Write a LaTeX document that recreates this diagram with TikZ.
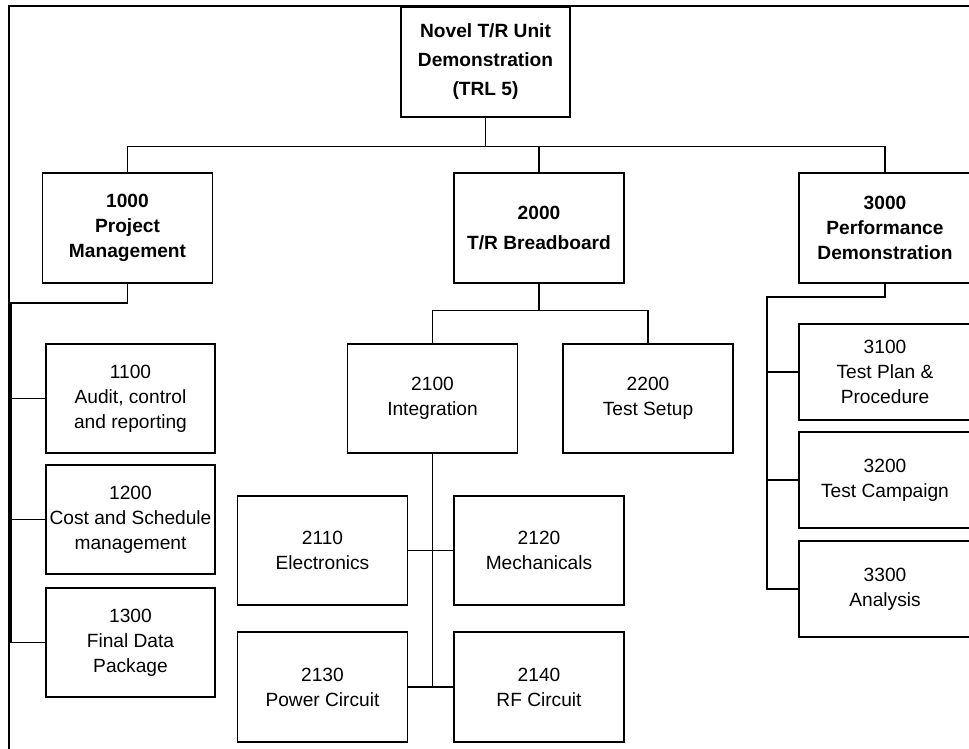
\documentclass[tikz,border=0pt]{standalone}
\usepackage{fontspec}
\setmainfont{Liberation Sans}

\tikzset{
  wbs/.style = {draw, line width=0.8pt, minimum width=3.4cm, minimum height=2.2cm,
                align=center, inner sep=0pt, font=\fontsize{10.9}{14.2}\selectfont},
  wbshead/.style = {wbs, font=\fontsize{10.9}{14.2}\selectfont\bfseries},
  wbslow/.style = {wbs, minimum width=3.44cm, minimum height=1.92cm},
  link/.style = {line width=0.8pt}
}

\begin{document}
\begin{tikzpicture}[x=0.02cm, y=-0.02cm]
\useasboundingbox (0,0) rectangle (969,748);
\clip (0,0) rectangle (969,748);

\coordinate (fb) at (9,760);
\coordinate (fc) at (9,6);
\coordinate (fr) at (990,6);
\draw[link] (fb) -- (fc) -- (fr);

\node[wbshead, minimum width=3.38cm, font=\fontsize{10.9}{16.5}\selectfont\bfseries] (top) at (485.5,62) {Novel T/R Unit\\Demonstration\\(TRL 5)};

\node[wbshead] (pm) at (127.5,228) {1000\\Project\\Management};
\node[wbshead, font=\fontsize{10.9}{17}\selectfont\bfseries] (bb) at (539,228) {2000\\T/R Breadboard};
\node[wbshead, minimum width=3.44cm] (pd) at (885,228) {3000\\Performance\\Demonstration};

\node[wbs, minimum width=3.38cm, minimum height=2.18cm] (acr) at (130.5,398.5) {1100\\Audit, control\\and reporting};
\node[wbs, minimum width=3.38cm, minimum height=2.18cm] (csm) at (130.5,519.5) {1200\\Cost and Schedule\\management};
\node[wbs, minimum width=3.38cm, minimum height=2.18cm] (fdp) at (130.5,642.5) {1300\\Final Data\\Package};

\node[wbs, minimum height=2.18cm] (int) at (432.5,398.5) {2100\\Integration};
\node[wbs, minimum height=2.18cm] (tsu) at (648,398.5) {2200\\Test Setup};

\node[wbs, minimum height=2.18cm] (ele) at (322.5,550.5) {2110\\Electronics};
\node[wbs, minimum height=2.18cm] (mec) at (539,550.5) {2120\\Mechanicals};
\node[wbs] (pwc) at (322.5,687) {2130\\Power Circuit};
\node[wbs] (rfc) at (539,687) {2140\\RF Circuit};

\node[wbslow] (tpp) at (885,372) {3100\\Test Plan \&\\Procedure};
\node[wbslow] (tca) at (885,480) {3200\\Test Campaign};
\node[wbslow] (ana) at (885,589) {3300\\Analysis};

% top level
\draw[link] (top.south) -- ++(0,29) coordinate (bus);
\draw[link] (pm.north) |- (bus) -| (pd.north);
\draw[link] (bb.north) -- (bb.north |- bus);

% 1000 branch
\coordinate (pmspine) at (11,303);
\draw[link] (pm.south) |- (pmspine) |- (fdp.west);
\draw[link] (pmspine |- acr.west) -- (acr.west);
\draw[link] (pmspine |- csm.west) -- (csm.west);

% 2000 branch
\draw[link] (bb.south) -- ++(0,27) coordinate (bbbus);
\draw[link] (int.north) |- (bbbus) -| (tsu.north);
\draw[link] (int.south) -- (int.south |- pwc.east);
\draw[link] (ele.east) -- (mec.west);
\draw[link] (pwc.east) -- (rfc.west);

% 3000 branch
\coordinate (pdspine) at (767,297);
\draw[link] (pd.south) |- (pdspine) |- (ana.west);
\draw[link] (pdspine |- tpp.west) -- (tpp.west);
\draw[link] (pdspine |- tca.west) -- (tca.west);

\end{tikzpicture}
\end{document}
